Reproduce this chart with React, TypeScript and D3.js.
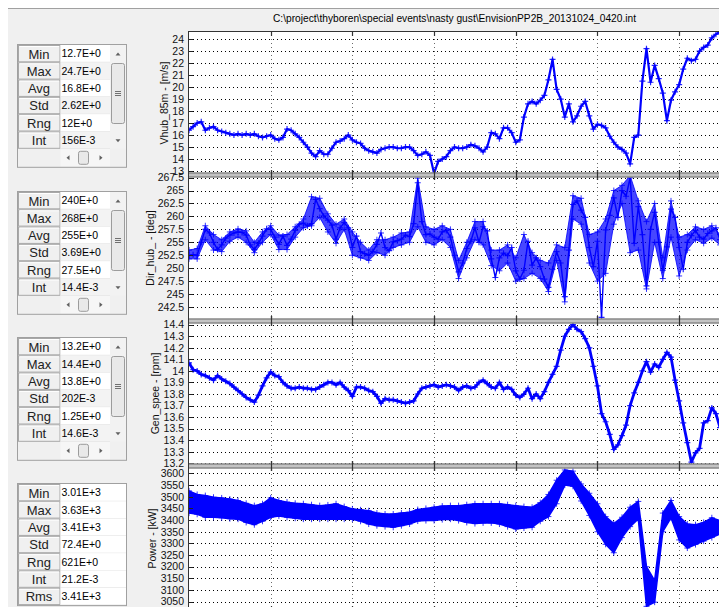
import React, { useEffect, useRef } from 'react';
import * as d3 from 'd3';

// ---- data ----
const TITLE = 'C:\\project\\thyboren\\special events\\nasty gust\\EnvisionPP2B_20131024_0420.int';

const SAMPLE_STEP = 5; // s between trace samples
const BAND_STEP = 10; // s between min/max bins
const TIME_END = 650;
const X_TICKS = [0, 100, 200, 300, 400, 500, 600];

const channelNames = ['Vhub_85m - [m/s]', 'Dir_hub_ - [deg]', 'Gen_spee - [rpm]', 'Power - [kW]'];

const windSpeed = [
  16.4, 16.7, 17.0, 17.1, 16.4, 16.6, 16.7, 16.4, 16.3, 16.2,
  16.1, 16.0, 16.1, 16.0, 16.1, 16.0, 16.1, 15.9, 15.8, 15.9,
  16.0, 15.7, 15.6, 15.8, 16.5, 16.4, 16.1, 15.8, 15.4, 15.0,
  14.5, 14.2, 14.7, 14.4, 14.4, 14.9, 15.4, 15.5, 15.7, 16.0,
  15.6, 15.4, 15.3, 14.9, 14.7, 14.6, 14.5, 14.8, 14.9, 15.0,
  15.0, 14.9, 14.9, 15.0, 15.0, 14.7, 14.3, 14.4, 14.6, 14.3,
  12.8, 13.8, 14.0, 14.2, 14.7, 15.0, 14.9, 14.9, 15.0, 15.2,
  15.1, 14.9, 14.6, 15.0, 16.2, 16.1, 15.7, 16.6, 16.6, 16.2,
  15.4, 15.6, 17.5, 18.6, 18.8, 18.6, 18.9, 19.3, 20.6, 22.3,
  19.8, 19.0, 17.5, 18.6, 17.1, 17.6, 18.4, 18.8, 17.6, 16.5,
  16.9, 16.8, 16.6, 15.9, 15.4, 15.0, 14.8, 14.5, 13.6, 15.8,
  16.0, 20.5, 23.2, 20.4, 21.8, 20.7, 19.5, 17.2, 18.9, 19.6,
  20.2, 21.5, 22.4, 22.2, 22.3, 23.0, 23.3, 23.5, 24.1, 24.4,
  24.6,
];

const windDir = [
  252.5, 252.6, 252.5, 255.0, 257.5, 256.8, 255.0, 253.6, 254.5, 255.8,
  256.4, 256.8, 257.0, 256.9, 256.4, 254.5, 253.6, 254.8, 256.2, 257.6,
  257.5, 256.0, 254.6, 256.2, 254.4, 255.6, 257.3, 258.5, 258.7, 258.2,
  258.6, 263.3, 261.5, 260.1, 259.3, 258.3, 255.6, 257.8, 258.8, 257.8,
  254.0, 256.2, 253.2, 252.8, 252.5, 253.2, 254.6, 256.8, 254.0, 253.4,
  255.1, 255.3, 255.6, 256.4, 256.1, 258.6, 266.5, 259.0, 256.5, 256.6,
  256.0, 255.6, 257.0, 257.3, 256.0, 252.5, 249.3, 251.0, 253.8, 255.2,
  257.8, 255.0, 258.0, 257.2, 251.8, 248.2, 252.0, 252.9, 252.4, 254.0,
  249.5, 247.9, 249.6, 255.2, 250.6, 252.0, 250.3, 247.9, 246.3, 249.8,
  253.2, 251.0, 244.5, 253.5, 262.3, 263.0, 261.2, 259.8, 254.0, 250.3,
  255.2, 240.5, 257.4, 260.2, 263.6, 259.8, 265.0, 263.9, 267.5, 254.8,
  261.9, 256.5, 246.6, 257.5, 260.8, 255.0, 249.6, 254.1, 261.4, 259.8,
  254.0, 249.8, 255.0, 256.3, 257.3, 256.0, 255.6, 256.7, 257.2, 257.8,
  255.5,
];

// direction: max / min of every 10 s bin
const dirHigh = [
  253.5, 253.8, 258.2, 256.5, 255.5, 257.0, 257.6, 257.2, 255.0, 257.0,
  258.2, 256.4, 256.5, 258.0, 259.5, 263.8, 263.5, 260.5, 258.5, 259.5,
  257.0, 255.0, 253.5, 255.5, 255.5, 256.0, 256.8, 257.0, 267.4, 258.0,
  257.5, 258.2, 257.5, 251.5, 255.0, 259.0, 259.0, 253.5, 253.5, 254.5,
  252.0, 256.5, 253.0, 251.5, 251.0, 254.5, 254.0, 264.0, 263.5, 256.5,
  257.0, 259.5, 265.0, 266.0, 267.9, 263.0, 259.0, 262.5, 252.0, 263.0,
  256.0, 256.5, 258.0, 257.5, 258.2, 256.5,
];
const dirLow = [
  251.8, 251.8, 255.5, 253.5, 253.2, 255.2, 256.0, 255.0, 253.0, 255.0,
  256.5, 253.6, 253.6, 256.0, 257.8, 258.2, 259.8, 257.0, 254.8, 257.5,
  252.5, 252.0, 251.5, 253.0, 252.5, 254.0, 254.5, 255.0, 258.0, 255.0,
  254.5, 255.5, 254.0, 248.0, 252.0, 255.5, 254.5, 250.5, 249.5, 251.0,
  247.5, 248.0, 249.0, 248.0, 245.5, 251.5, 243.5, 259.5, 258.5, 251.0,
  247.5, 249.0, 258.5, 262.5, 253.0, 253.5, 246.0, 255.0, 248.0, 256.0,
  248.5, 253.5, 255.5, 254.8, 255.8, 254.5,
];

const genSpeed = [
  14.07, 14.01, 14.00, 13.97, 13.96, 13.94, 13.92, 13.96, 13.93, 13.91,
  13.89, 13.86, 13.83, 13.80, 13.77, 13.75, 13.73, 13.79, 13.87, 13.94,
  13.99, 13.96, 13.95, 13.90, 13.87, 13.85, 13.85, 13.86, 13.85, 13.85,
  13.84, 13.84, 13.86, 13.88, 13.90, 13.90, 13.88, 13.90, 13.86, 13.83,
  13.78, 13.86, 13.86, 13.85, 13.83, 13.82, 13.78, 13.72, 13.76, 13.75,
  13.75, 13.74, 13.73, 13.72, 13.73, 13.74, 13.80, 13.85, 13.86, 13.87,
  13.88, 13.86, 13.87, 13.88, 13.87, 13.86, 13.83, 13.86, 13.87, 13.85,
  13.86, 13.90, 13.92, 13.89, 13.86, 13.85, 13.90, 13.84, 13.86, 13.84,
  13.79, 13.77, 13.80, 13.85, 13.76, 13.80, 13.76, 13.82, 13.90, 13.97,
  14.04, 14.18, 14.30, 14.36, 14.40, 14.36, 14.34, 14.28, 14.20, 14.04,
  13.87, 13.63, 13.56, 13.45, 13.32, 13.36, 13.44, 13.53, 13.70, 13.81,
  13.90, 14.00, 14.08, 13.99, 14.06, 14.03, 14.10, 14.16, 14.12, 13.92,
  13.74, 13.55, 13.38, 13.21, 13.29, 13.33, 13.55, 13.57, 13.68, 13.63,
  13.51,
];

// power: max / min of every 10 s bin
const powerHigh = [
  3525, 3510, 3505, 3498, 3495, 3490, 3484, 3472, 3462, 3470,
  3495, 3484, 3477, 3472, 3470, 3466, 3462, 3465, 3470, 3458,
  3448, 3444, 3440, 3430, 3426, 3426, 3430, 3434, 3445, 3450,
  3455, 3460, 3462, 3462, 3466, 3470, 3470, 3470, 3470, 3466,
  3462, 3458, 3455, 3475, 3510, 3571, 3615, 3610, 3555, 3515,
  3470, 3415, 3385, 3412, 3455, 3480, 3200, 3140, 3430, 3484,
  3415, 3383, 3380, 3390, 3410, 3398,
];
const powerLow = [
  3430, 3425, 3412, 3412, 3410, 3406, 3404, 3390, 3380, 3395,
  3412, 3418, 3412, 3408, 3404, 3404, 3404, 3404, 3404, 3404,
  3404, 3395, 3383, 3376, 3372, 3369, 3376, 3383, 3396, 3398,
  3398, 3402, 3404, 3398, 3390, 3385, 3388, 3388, 3383, 3372,
  3362, 3366, 3369, 3395, 3415, 3470, 3550, 3545, 3482, 3420,
  3350, 3296, 3260, 3325, 3372, 3405, 3030, 3048, 3350, 3410,
  3315, 3280, 3295, 3310, 3325, 3340,
];

const windTicks = [13, 14, 15, 16, 17, 18, 19, 20, 21, 22, 23, 24];
const dirTicks = [242.5, 245, 247.5, 250, 252.5, 255, 257.5, 260, 262.5, 265, 267.5];
const genTicks = [13.2, 13.3, 13.4, 13.5, 13.6, 13.7, 13.8, 13.9, 14, 14.1, 14.2, 14.3, 14.4];
const powerTicks = [3050, 3100, 3150, 3200, 3250, 3300, 3350, 3400, 3450, 3500, 3550, 3600];

// axis limits = channel min / max
const windRange: [number, number] = [12.67, 24.67];
const dirRange: [number, number] = [239.8, 268.0];
const genRange: [number, number] = [13.177, 14.432];
const powerRange: [number, number] = [3010, 3632];

const statLabels = ['Min', 'Max', 'Avg', 'Std', 'Rng', 'Int'];
const statLabelsRms = ['Min', 'Max', 'Avg', 'Std', 'Rng', 'Int', 'Rms'];
const windStats = ['12.7E+0', '24.7E+0', '16.8E+0', '2.62E+0', '12E+0', '156E-3'];
const dirStats = ['240E+0', '268E+0', '255E+0', '3.69E+0', '27.5E+0', '14.4E-3'];
const genStats = ['13.2E+0', '14.4E+0', '13.8E+0', '202E-3', '1.25E+0', '14.6E-3'];
const powerStats = ['3.01E+3', '3.63E+3', '3.41E+3', '72.4E+0', '621E+0', '21.2E-3', '3.41E+3'];

const W = 719;
const H = 607;
const PLOT_LEFT = 189;
const PLOT_RIGHT = 720;
const PANEL_EDGES = [31, 175, 321, 466, 611];
const STAT_TOPS = [45, 192, 338, 484];
const ROW_H = 17.3;
const FONT = '"Liberation Sans", Arial, sans-serif';
const BLUE = '#0000ff';

type Bin = { t: number; hi: number; lo: number };

const plusPath = (pts: [number, number][], r: number) =>
  pts.map(([x, y]) => `M${x - r},${y}h${2 * r}M${x},${y - r}v${2 * r}`).join('');

const App = () => {
  const ref = useRef<SVGSVGElement>(null);

  useEffect(() => {
    const svg = d3.select(ref.current);
    svg.selectAll('*').remove();

    const panels = [
      { name: channelNames[0], range: windRange, ticks: windTicks, values: windSpeed, hi: null, lo: null, stats: windStats, labels: statLabels },
      { name: channelNames[1], range: dirRange, ticks: dirTicks, values: windDir, hi: dirHigh, lo: dirLow, stats: dirStats, labels: statLabels },
      { name: channelNames[2], range: genRange, ticks: genTicks, values: genSpeed, hi: null, lo: null, stats: genStats, labels: statLabels },
      { name: channelNames[3], range: powerRange, ticks: powerTicks, values: null, hi: powerHigh, lo: powerLow, stats: powerStats, labels: statLabelsRms },
    ];

    const x = d3.scaleLinear().domain([0, TIME_END]).range([PLOT_LEFT, PLOT_RIGHT]);

    // window background
    svg.append('rect').attr('width', W).attr('height', H).attr('fill', '#fff');
    svg.append('rect').attr('x', 8).attr('y', 8).attr('width', W - 8).attr('height', H - 8).attr('fill', '#f0f0f0');
    svg.append('line').attr('x1', 8).attr('x2', W).attr('y1', 8.5).attr('y2', 8.5).attr('stroke', '#a0a0a0');

    svg.append('text')
      .attr('x', (PLOT_LEFT + PLOT_RIGHT) / 2).attr('y', 22)
      .attr('text-anchor', 'middle')
      .style('font', `10.2px ${FONT}`)
      .attr('fill', '#000')
      .text(TITLE);

    // plot area
    svg.append('rect')
      .attr('x', PLOT_LEFT).attr('y', PANEL_EDGES[0])
      .attr('width', PLOT_RIGHT - PLOT_LEFT).attr('height', H - PANEL_EDGES[0])
      .attr('fill', '#fff');

    const defs = svg.append('defs');

    panels.forEach((p, i) => {
      const top = PANEL_EDGES[i];
      const bottom = PANEL_EDGES[i + 1];
      const y = d3.scaleLinear().domain(p.range).range([bottom, top]);
      const g = svg.append('g');

      // grid
      g.selectAll('line.hgrid').data(p.ticks).join('line')
        .attr('x1', PLOT_LEFT).attr('x2', PLOT_RIGHT)
        .attr('y1', d => Math.round(y(d)) + 0.5).attr('y2', d => Math.round(y(d)) + 0.5)
        .attr('stroke', '#000').attr('stroke-dasharray', '1,3');
      g.selectAll('line.vgrid').data(X_TICKS.slice(1)).join('line')
        .attr('x1', d => Math.round(x(d)) + 0.5).attr('x2', d => Math.round(x(d)) + 0.5)
        .attr('y1', top).attr('y2', bottom)
        .attr('stroke', '#6a6a6a').attr('stroke-dasharray', '1,3');

      // traces
      const clipId = `clip${i}`;
      defs.append('clipPath').attr('id', clipId)
        .append('rect').attr('x', PLOT_LEFT).attr('y', top).attr('width', PLOT_RIGHT - PLOT_LEFT).attr('height', bottom - top);
      const tg = g.append('g').attr('clip-path', `url(#${clipId})`);

      if (p.hi && p.lo) {
        const bins: Bin[] = p.hi.map((h, k) => ({ t: k * BAND_STEP, hi: h, lo: p.lo![k] }));
        const area = d3.area<Bin>().x(d => x(d.t)).y0(d => y(d.lo)).y1(d => y(d.hi));
        const isPower = !p.values;
        tg.append('path').attr('d', area(bins))
          .attr('fill', BLUE).attr('fill-opacity', isPower ? 1 : 0.72)
          .attr('stroke', BLUE).attr('stroke-width', isPower ? 1.5 : 1).attr('stroke-opacity', isPower ? 1 : 0.8);
        const edge = bins.flatMap(d => [[x(d.t), y(d.hi)], [x(d.t), y(d.lo)]] as [number, number][]);
        tg.append('path').attr('d', plusPath(edge, 3))
          .attr('stroke', BLUE).attr('stroke-width', 1).attr('stroke-opacity', 0.8);
      }
      if (p.values) {
        const pts: [number, number][] = p.values.map((v, k) => [x(k * SAMPLE_STEP), y(v)]);
        tg.append('path')
          .attr('d', d3.line()(pts))
          .attr('fill', 'none').attr('stroke', BLUE)
          .attr('stroke-width', i === 2 ? 2.8 : i === 0 ? 2.2 : 1.4)
          .attr('stroke-linejoin', 'round');
        tg.append('path')
          .attr('d', plusPath(pts, 3))
          .attr('stroke', BLUE).attr('stroke-width', 1.2).attr('stroke-opacity', 0.85);
      }

      // y ticks
      g.selectAll('line.ytick').data(p.ticks).join('line')
        .attr('x1', PLOT_LEFT).attr('x2', PLOT_LEFT + 4)
        .attr('y1', d => Math.round(y(d)) + 0.5).attr('y2', d => Math.round(y(d)) + 0.5)
        .attr('stroke', '#222');
      // x ticks top & bottom
      [top, bottom].forEach((yy, k) => {
        g.selectAll(`line.xt${k}`).data(X_TICKS.slice(1)).join('line')
          .attr('x1', d => Math.round(x(d)) + 0.5).attr('x2', d => Math.round(x(d)) + 0.5)
          .attr('y1', yy).attr('y2', k === 0 ? yy + 5 : yy - 5)
          .attr('stroke', '#333').attr('stroke-width', 1.2);
      });

      const labels = g.selectAll('text.tick').data(p.ticks).join('text')
        .attr('x', 184).attr('y', d => y(d)).attr('dy', '0.36em')
        .attr('text-anchor', 'end')
        .style('font', `10.5px ${FONT}`).attr('fill', '#111')
        .text(d => d3.format('~g')(d));
      let maxW = 0;
      labels.each(function () {
        maxW = Math.max(maxW, (this as SVGTextElement).getComputedTextLength());
      });
      g.append('text')
        .attr('transform', `translate(${184 - maxW - 8},${(top + bottom) / 2}) rotate(-90)`)
        .attr('text-anchor', 'middle').attr('dy', '0.36em')
        .style('font', `10.5px ${FONT}`).attr('fill', '#111')
        .text(p.name);

      // stat box
      const sb = svg.append('g');
      const y0 = STAT_TOPS[i];
      const scroll = p.labels.length === 6;
      const nRows = p.labels.length;
      const valRight = scroll ? 110 : 126;
      const boxBottom = y0 + nRows * ROW_H + (scroll ? 18 : 0);
      sb.append('rect').attr('x', 18).attr('y', y0).attr('width', 108).attr('height', boxBottom - y0)
        .attr('fill', '#f0f0f0');
      p.labels.forEach((lab, r) => {
        const ry = y0 + r * ROW_H;
        sb.append('rect').attr('x', 18.5).attr('y', ry + 0.5).attr('width', 41.5).attr('height', ROW_H - 1)
          .attr('fill', '#f0f0f0').attr('stroke', '#a8a8a8');
        sb.append('line').attr('x1', 19.5).attr('x2', 59).attr('y1', ry + 1.5).attr('y2', ry + 1.5).attr('stroke', '#fff');
        sb.append('text').attr('x', 39).attr('y', ry + ROW_H / 2).attr('dy', '0.38em')
          .attr('text-anchor', 'middle').style('font', `13px ${FONT}`).attr('fill', '#222').text(lab);
        sb.append('rect').attr('x', 60.5).attr('y', ry).attr('width', valRight - 60.5).attr('height', ROW_H)
          .attr('fill', scroll && r % 2 === 1 ? '#f3f3f3' : '#fff');
        sb.append('line').attr('x1', 60.5).attr('x2', valRight).attr('y1', ry + ROW_H).attr('y2', ry + ROW_H)
          .attr('stroke', '#e2e2e2');
        sb.append('text').attr('x', 61.5).attr('y', ry + ROW_H / 2).attr('dy', '0.36em')
          .style('font', `10.5px ${FONT}`).attr('fill', '#000').text(p.stats[r]);
      });
      if (scroll) {
        const tri = (cx: number, cy: number, dir: string) => {
          const s = 2.5;
          const d = dir === 'up' ? `M${cx - s},${cy + 1.5}L${cx + s},${cy + 1.5}L${cx},${cy - 1.5}Z`
            : dir === 'down' ? `M${cx - s},${cy - 1.5}L${cx + s},${cy - 1.5}L${cx},${cy + 1.5}Z`
            : dir === 'left' ? `M${cx + 1.5},${cy - s}L${cx + 1.5},${cy + s}L${cx - 1.5},${cy}Z`
            : `M${cx - 1.5},${cy - s}L${cx - 1.5},${cy + s}L${cx + 1.5},${cy}Z`;
          sb.append('path').attr('d', d).attr('fill', '#606060');
        };
        const trackBottom = y0 + nRows * ROW_H;
        sb.append('rect').attr('x', 110).attr('y', y0).attr('width', 16).attr('height', trackBottom - y0).attr('fill', '#f2f2f2');
        tri(118, y0 + 9, 'up');
        tri(118, trackBottom - 8, 'down');
        sb.append('rect').attr('x', 111.5).attr('y', y0 + 18.5).attr('width', 13).attr('height', 60).attr('rx', 2)
          .attr('fill', '#e9e9e9').attr('stroke', '#9c9c9c');
        [-2, 0, 2].forEach(o => sb.append('line').attr('x1', 115).attr('x2', 121)
          .attr('y1', y0 + 48.5 + o).attr('y2', y0 + 48.5 + o).attr('stroke', '#707070'));
        sb.append('rect').attr('x', 60.5).attr('y', trackBottom).attr('width', 49.5).attr('height', 18).attr('fill', '#f6f6f6');
        tri(68, trackBottom + 9, 'left');
        tri(101, trackBottom + 9, 'right');
        sb.append('rect').attr('x', 78.5).attr('y', trackBottom + 2.5).attr('width', 10).attr('height', 13).attr('rx', 2)
          .attr('fill', '#e9e9e9').attr('stroke', '#9c9c9c');
      }
      sb.append('rect').attr('x', 17.5).attr('y', y0 - 0.5).attr('width', 109).attr('height', boxBottom - y0 + 1)
        .attr('fill', 'none').attr('stroke', '#a0a0a0');
    });

    // panel separators and frame
    PANEL_EDGES.slice(1, 4).forEach(e => {
      svg.append('rect').attr('x', PLOT_LEFT).attr('y', e - 2.5).attr('width', PLOT_RIGHT - PLOT_LEFT).attr('height', 5)
        .attr('fill', '#c4c4c4');
      [e - 2, e + 2].forEach(yy => svg.append('line').attr('x1', PLOT_LEFT).attr('x2', PLOT_RIGHT)
        .attr('y1', yy).attr('y2', yy).attr('stroke', '#6a6a6a'));
      X_TICKS.slice(1).forEach(t => svg.append('line')
        .attr('x1', Math.round(x(t)) + 0.5).attr('x2', Math.round(x(t)) + 0.5)
        .attr('y1', e - 5).attr('y2', e + 5).attr('stroke', '#333').attr('stroke-width', 1.2));
    });
    svg.append('line').attr('x1', PLOT_LEFT).attr('x2', PLOT_RIGHT)
      .attr('y1', PANEL_EDGES[0] + 0.5).attr('y2', PANEL_EDGES[0] + 0.5).attr('stroke', '#333');
    svg.append('line').attr('x1', PLOT_LEFT - 0.5).attr('x2', PLOT_LEFT - 0.5)
      .attr('y1', PANEL_EDGES[0]).attr('y2', H).attr('stroke', '#333');

    return () => {
      svg.selectAll('*').remove();
    };
  }, []);

  return (
    <div style={{ position: 'absolute', left: 0, top: 0 }}>
      <svg ref={ref} width={W} height={H} style={{ display: 'block' }} />
    </div>
  );
};

export default App;
